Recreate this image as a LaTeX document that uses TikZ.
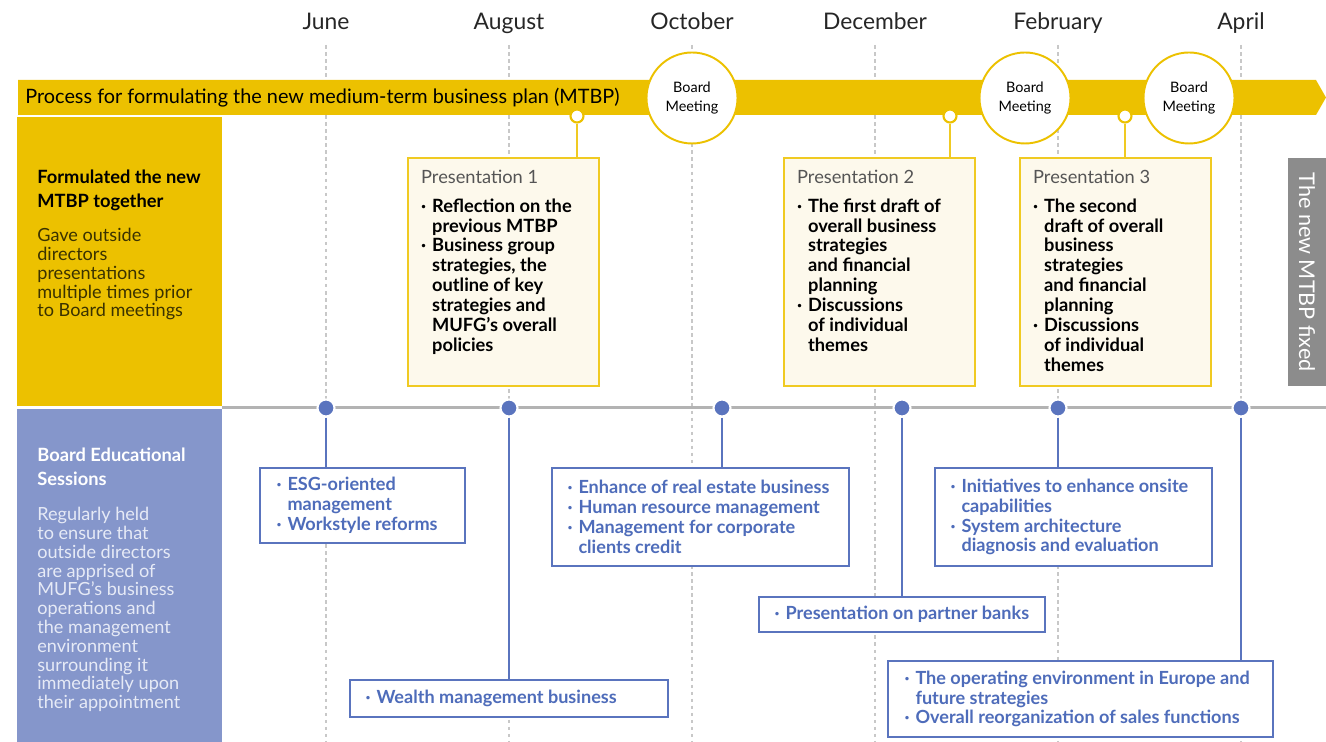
\documentclass[tikz,border=0pt]{standalone}
\usepackage{fontspec}
\setmainfont{Lato}
\usepackage{tikz}
\usepackage{xcolor}
\usetikzlibrary{positioning}

\definecolor{mtbpyellow}{HTML}{ECC100}
\definecolor{presedge}{HTML}{F0CA22}
\definecolor{prescream}{HTML}{FDF9EC}
\definecolor{edupanel}{HTML}{8596CB}
\definecolor{eduline}{HTML}{5A74BE}
\definecolor{edutext}{HTML}{4E6CBA}
\definecolor{linegray}{HTML}{B3B3B3}
\definecolor{gridgray}{HTML}{C8C8C8}
\definecolor{fixedgray}{HTML}{8C8C8C}
\definecolor{labelgray}{HTML}{555555}
\definecolor{olivetext}{HTML}{3A3200}
\definecolor{palelilac}{HTML}{E6EAF6}

\newcommand{\itm}{\makebox[0.6em][l]{·}}
\newcommand{\ind}{\hspace*{0.6em}}

\begin{document}
\begin{tikzpicture}[
    month/.style={anchor=base, font=\fontsize{13}{15}\selectfont, text=black!85},
    monthline/.style={draw=gridgray, line width=0.6pt, dash pattern=on 2pt off 2pt},
    meeting/.style={draw=mtbpyellow, fill=white, circle, line width=1.1pt, minimum size=1.82cm, inner sep=0pt, align=center, font=\fontsize{8.2}{10.8}\selectfont},
    knob/.style={draw=mtbpyellow, fill=white, circle, line width=1.2pt, minimum size=0.26cm, inner sep=0pt},
    presbox/.style={draw=presedge, fill=prescream, line width=0.8pt, minimum width=3.82cm, minimum height=4.56cm},
    prestext/.style={anchor=north west, inner sep=0pt, align=left, font=\fontsize{10.4}{11.3}\selectfont\bfseries},
    sessiondot/.style={circle, fill=eduline, draw=white, line width=1.2pt, minimum size=0.34cm, inner sep=0pt},
    edubox/.style={draw=eduline, fill=white, line width=0.8pt},
    edutext/.style={anchor=west, inner sep=0pt, align=left, text=edutext, font=\fontsize{10.3}{11.3}\selectfont\bfseries},
    panelhead/.style={anchor=north west, inner sep=0pt, align=left, font=\fontsize{10.4}{13.6}\selectfont\bfseries},
    panelbody/.style={anchor=north west, inner sep=0pt, align=left, font=\fontsize{10.3}{10.7}\selectfont}
  ]
  \useasboundingbox (0,0) rectangle (26.52,14.84);
  \coordinate (base) at (0,0);

  \node (jun) at (6.52,14.25) [month] {June};
  \node (aug) at (10.18,14.25) [month] {August};
  \node (oct) at (13.84,14.25) [month] {October};
  \node (dec) at (17.50,14.25) [month] {December};
  \node (feb) at (21.16,14.25) [month] {February};
  \node (apr) at (24.82,14.25) [month] {April};
  \draw[monthline] ([yshift=-0.31cm]jun.base) -- (jun |- base);
  \draw[monthline] ([yshift=-0.31cm]aug.base) -- (aug |- base);
  \draw[monthline] ([yshift=-0.31cm]oct.base) -- (oct |- base);
  \draw[monthline] ([yshift=-0.31cm]dec.base) -- (dec |- base);
  \draw[monthline] ([yshift=-0.31cm]feb.base) -- (feb |- base);
  \draw[monthline] ([yshift=-0.31cm]apr.base) -- (apr |- base);

  \fill[mtbpyellow] (0.36,12.54) -- (26.32,12.54) -- (26.52,12.89) -- (26.32,13.24) -- (0.36,13.24) -- cycle;
  \node (process) at (0.50,12.89) [anchor=west, inner sep=0pt, font=\fontsize{11.3}{12}\selectfont] {Process for formulating the new medium-term business plan (MTBP)};

  \fill[mtbpyellow] (0.34,6.72) rectangle (4.44,12.50);
  \fill[edupanel] (0.34,0) rectangle (4.44,6.66);
  \node (planhead) at (0.74,11.44) [panelhead] {Formulated the new\\MTBP together};
  \node (planbody) at (0.74,10.28) [panelbody, text=olivetext] {Gave outside\\directors\\presentations\\multiple times prior\\to Board meetings};
  \node (eduhead) at (0.74,5.88) [panelhead, text=white] {Board Educational\\Sessions};
  \node (edubody) at (0.74,4.70) [panelbody, text=palelilac] {Regularly held\\to ensure that\\outside directors\\are apprised of\\MUFG’s business\\operations and\\the management\\environment\\surrounding it\\immediately upon\\their appointment};

  \node (p1) at (10.07,9.40) [presbox] {};
  \node (p2) at (17.59,9.40) [presbox] {};
  \node (p3) at (22.31,9.40) [presbox] {};
  \node (p1text) at ([xshift=0.27cm,yshift=-0.25cm]p1.north west) [prestext] {{\mdseries\color{labelgray}Presentation 1}\\[5pt]
    \itm Reflection on the\\ \ind previous MTBP\\
    \itm Business group\\ \ind strategies, the\\ \ind outline of key\\ \ind strategies and\\ \ind MUFG’s overall\\ \ind policies};
  \node (p2text) at ([xshift=0.27cm,yshift=-0.25cm]p2.north west) [prestext] {{\mdseries\color{labelgray}Presentation 2}\\[5pt]
    \itm The first draft of\\ \ind overall business\\ \ind strategies\\ \ind and financial\\ \ind planning\\
    \itm Discussions\\ \ind of individual\\ \ind themes};
  \node (p3text) at ([xshift=0.27cm,yshift=-0.25cm]p3.north west) [prestext] {{\mdseries\color{labelgray}Presentation 3}\\[5pt]
    \itm The second\\ \ind draft of overall\\ \ind business\\ \ind strategies\\ \ind and financial\\ \ind planning\\
    \itm Discussions\\ \ind of individual\\ \ind themes};

  \node (k1) at (11.54,12.52) [knob] {};
  \node (k2) at (19.00,12.52) [knob] {};
  \node (k3) at (22.50,12.52) [knob] {};
  \draw[presedge, line width=1pt] (k1.south) -- (k1 |- p1.north);
  \draw[presedge, line width=1pt] (k2.south) -- (k2 |- p2.north);
  \draw[presedge, line width=1pt] (k3.south) -- (k3 |- p3.north);

  \node (bm1) at (13.84,12.88) [meeting] {Board\\Meeting};
  \node (bm2) at (20.50,12.88) [meeting] {Board\\Meeting};
  \node (bm3) at (23.78,12.88) [meeting] {Board\\Meeting};

  \node (fixed) at (26.14,9.40) [fill=fixedgray, text=white, rotate=-90, minimum width=4.56cm, minimum height=0.76cm, inner sep=0pt, font=\fontsize{12.3}{14}\selectfont] {The new MTBP fixed};

  \draw[linegray, line width=1.7pt] (4.44,6.68) -- (26.52,6.68);

  \node (esg) at (7.25,4.73) [edubox, minimum width=4.10cm, minimum height=1.50cm] {};
  \node (estate) at (14.01,4.50) [edubox, minimum width=5.94cm, minimum height=1.96cm] {};
  \node (partner) at (18.04,2.55) [edubox, minimum width=5.72cm, minimum height=0.70cm] {};
  \node (onsite) at (21.47,4.50) [edubox, minimum width=5.54cm, minimum height=1.96cm] {};
  \node (wealth) at (10.18,0.87) [edubox, minimum width=6.36cm, minimum height=0.74cm] {};
  \node (europe) at (21.61,0.86) [edubox, minimum width=7.70cm, minimum height=1.52cm] {};
  \node (esgtext) at ([xshift=0.34cm]esg.west) [edutext] {\itm ESG-oriented\\ \ind management\\ \itm Workstyle reforms};
  \node (estatetext) at ([xshift=0.32cm]estate.west) [edutext] {\itm Enhance of real estate business\\ \itm Human resource management\\ \itm Management for corporate\\ \ind clients credit};
  \node (partnertext) at ([xshift=0.32cm]partner.west) [edutext] {\itm Presentation on partner banks};
  \node (onsitetext) at ([xshift=0.32cm]onsite.west) [edutext] {\itm Initiatives to enhance onsite\\ \ind capabilities\\ \itm System architecture\\ \ind diagnosis and evaluation};
  \node (wealthtext) at ([xshift=0.32cm]wealth.west) [edutext] {\itm Wealth management business};
  \node (europetext) at ([xshift=0.34cm]europe.west) [edutext] {\itm The operating environment in Europe and\\ \ind future strategies\\ \itm Overall reorganization of sales functions};

  \node (s1) at (6.52,6.68) [sessiondot] {};
  \node (s2) at (10.18,6.68) [sessiondot] {};
  \node (s3) at (14.44,6.68) [sessiondot] {};
  \node (s4) at (18.04,6.68) [sessiondot] {};
  \node (s5) at (21.16,6.68) [sessiondot] {};
  \node (s6) at (24.82,6.68) [sessiondot] {};
  \draw[eduline, line width=1pt] (s1.south) -- (s1 |- esg.north);
  \draw[eduline, line width=1pt] (s2.south) -- (s2 |- wealth.north);
  \draw[eduline, line width=1pt] (s3.south) -- (s3 |- estate.north);
  \draw[eduline, line width=1pt] (s4.south) -- (s4 |- partner.north);
  \draw[eduline, line width=1pt] (s5.south) -- (s5 |- onsite.north);
  \draw[eduline, line width=1pt] (s6.south) -- (s6 |- europe.north);
\end{tikzpicture}
\end{document}
